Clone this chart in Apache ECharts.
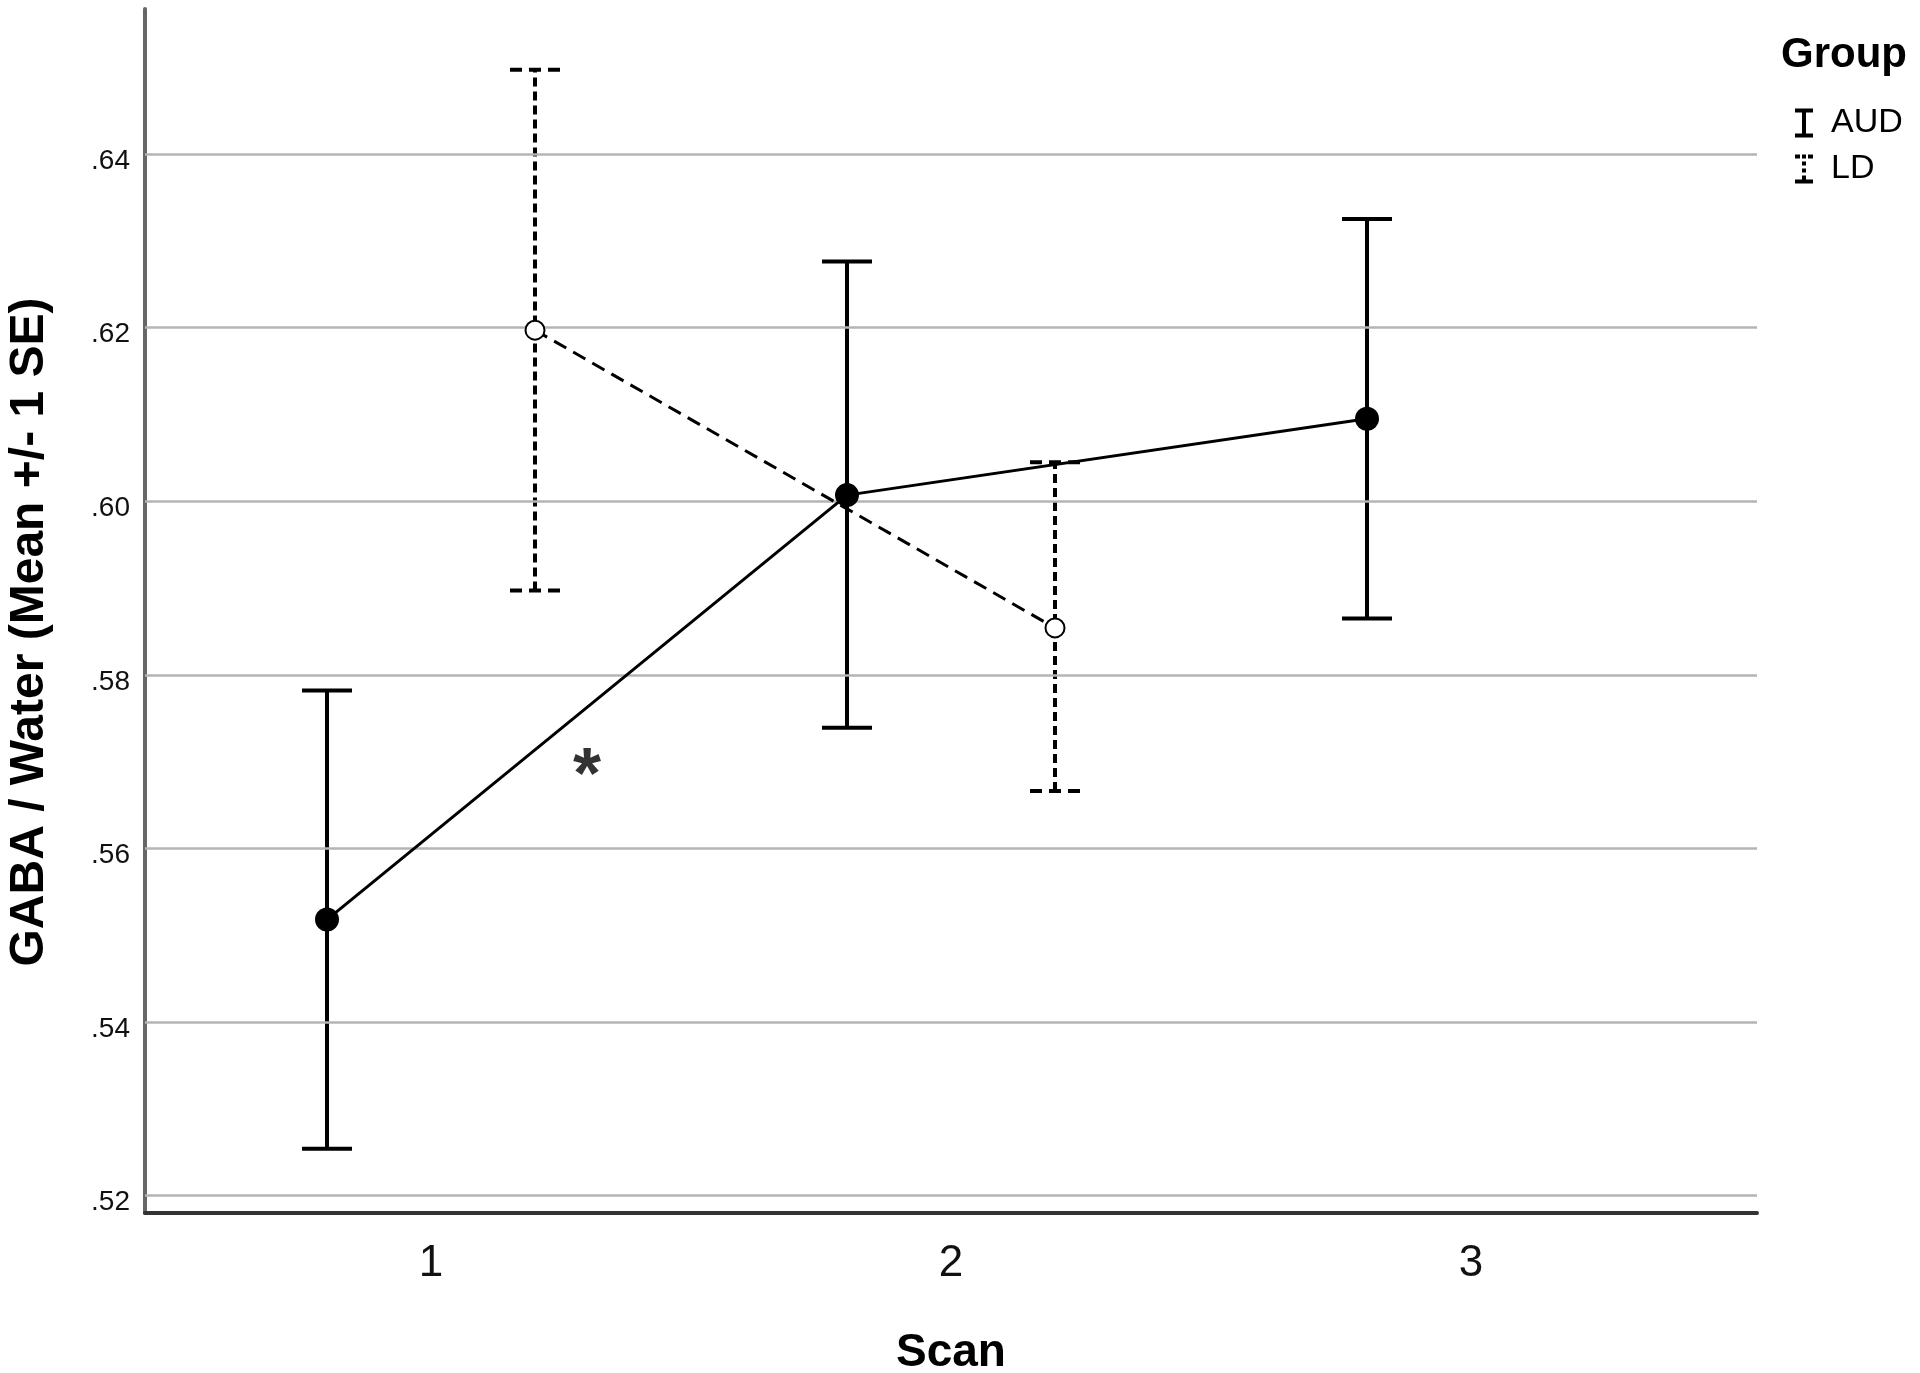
<!DOCTYPE html>
<html>
<head>
<meta charset="utf-8">
<script src="https://cdn.jsdelivr.net/npm/echarts@6/dist/echarts.min.js"></script>
<style>
  html, body { margin: 0; padding: 0; background: #fff; }
  #chart { width: 1920px; height: 1373px; }
</style>
</head>
<body>
<div id="chart"></div>
<script>
// ---- data ----
var scans = [1, 2, 3];
var groups = ['AUD', 'LD'];
var groupOffset = { AUD: -0.2, LD: 0.2 };
var audMean  = [0.5518, 0.6007, 0.6095];
var audLower = [0.5254, 0.5739, 0.5865];
var audUpper = [0.5782, 0.6276, 0.6325];
var ldMean   = [0.6197, 0.5854];
var ldLower  = [0.5897, 0.5666];
var ldUpper  = [0.6497, 0.6045];
var yTicks = [0.52, 0.54, 0.56, 0.58, 0.60, 0.62, 0.64];
var yRange = [0.518, 0.6567];
var xRange = [0.45, 3.55];
var asteriskPos = [1.3, 0.570];

function pts(means, off) {
  return means.map(function (m, i) { return [scans[i] + off, m]; });
}
function bars(lo, hi, off) {
  return lo.map(function (l, i) { return [scans[i] + off, l, hi[i]]; });
}

function makeErr(dashed) {
  return function (params, api) {
    var x = api.value(0), lo = api.value(1), hi = api.value(2);
    var pLo = api.coord([x, lo]), pHi = api.coord([x, hi]);
    var hw = 25;
    var vStyle = { stroke: '#000', lineWidth: 4, lineDash: dashed ? [9, 5] : null, fill: null };
    var cStyle = { stroke: '#000', lineWidth: 4, lineDash: dashed ? [12, 7] : null, fill: null };
    return {
      type: 'group',
      children: [
        { type: 'line', shape: { x1: pLo[0], y1: pLo[1], x2: pHi[0], y2: pHi[1] }, style: vStyle },
        { type: 'line', shape: { x1: pHi[0] - hw, y1: pHi[1], x2: pHi[0] + hw, y2: pHi[1] }, style: cStyle },
        { type: 'line', shape: { x1: pLo[0] - hw, y1: pLo[1], x2: pLo[0] + hw, y2: pLo[1] }, style: cStyle }
      ]
    };
  };
}

var FONT = '"Liberation Sans", Arial, Helvetica, sans-serif';
var chart = echarts.init(document.getElementById('chart'), null, { renderer: 'canvas' });

var option = {
  backgroundColor: '#fff',
  animation: false,
  color: ['#000'],
  title: {
    text: 'Group',
    left: 1776,
    top: 29,
    textStyle: { fontFamily: FONT, fontSize: 42, fontWeight: 'bold', color: '#000' }
  },
  legend: {
    orient: 'vertical',
    left: 1790,
    top: 101,
    itemWidth: 18,
    itemHeight: 29,
    itemGap: 12,
    selectedMode: false,
    textStyle: { fontFamily: FONT, fontSize: 34, color: '#000', padding: [0, 0, 0, 13] },
    data: [
      { name: 'AUD', icon: 'path://M0,0H18V4H11V25H18V29H0V25H7V4H0Z', itemStyle: { color: '#000' } },
      { name: 'LD', icon: 'path://M0,0H5V4H0Z M7,0H11V4H7Z M13,0H18V4H13Z M7,7H11V11H7Z M7,14H11V18H7Z M7,21H11V25H7Z M0,25H18V29H0Z', itemStyle: { color: '#000' } }
    ]
  },
  grid: { left: 145, right: 163, top: 9, bottom: 160, containLabel: false, outerBoundsMode: 'none' },
  xAxis: {
    type: 'value',
    min: xRange[0],
    max: xRange[1],
    name: 'Scan',
    nameLocation: 'middle',
    nameGap: 117,
    nameTextStyle: { fontFamily: FONT, fontSize: 46, fontWeight: 'bold', color: '#000' },
    axisLine: { show: true, lineStyle: { color: '#333', width: 4 } },
    axisTick: { show: false },
    splitLine: { show: false },
    axisLabel: {
      customValues: scans,
      fontFamily: FONT, fontSize: 44, color: '#111', margin: 29,
      formatter: function (v) { return String(Math.round(v)); }
    }
  },
  yAxis: {
    type: 'value',
    min: yRange[0],
    max: yRange[1],
    name: 'GABA / Water (Mean +/- 1 SE)',
    nameLocation: 'middle',
    nameRotate: 90,
    nameGap: 91,
    nameTextStyle: { fontFamily: FONT, fontSize: 48, fontWeight: 'bold', color: '#000', padding: [0, 42, 0, 0] },
    axisLine: { show: true, lineStyle: { color: '#666', width: 4 } },
    axisTick: { show: false },
    splitLine: { show: false },
    axisLabel: {
      customValues: yTicks,
      fontFamily: FONT, fontSize: 28, color: '#111', margin: 15,
      formatter: function (v) { return '{t|.' + Math.round(v * 100) + '}'; },
      rich: {
        t: { fontFamily: FONT, fontSize: 28, color: '#111', padding: [14, 0, 0, 0] }
      }
    }
  },
  series: [
    {
      name: 'grid',
      type: 'line',
      data: [],
      silent: true,
      z: 1,
      markLine: {
        silent: true,
        symbol: ['none', 'none'],
        label: { show: false },
        lineStyle: { color: '#b4b4b4', width: 2.5, type: 'solid' },
        data: yTicks.map(function (v) { return { yAxis: v }; })
      }
    },
    {
      name: 'AUD',
      type: 'custom',
      renderItem: makeErr(false),
      itemStyle: { color: '#000' },
      encode: { x: 0, y: [1, 2] },
      data: bars(audLower, audUpper, groupOffset.AUD),
      z: 3
    },
    {
      name: 'LD',
      type: 'custom',
      renderItem: makeErr(true),
      itemStyle: { color: '#000' },
      encode: { x: 0, y: [1, 2] },
      data: bars(ldLower, ldUpper, groupOffset.LD),
      z: 3
    },
    {
      name: 'AUD mean',
      type: 'line',
      data: pts(audMean, groupOffset.AUD),
      symbol: 'circle',
      symbolSize: 24,
      itemStyle: { color: '#000' },
      lineStyle: { color: '#000', width: 3 },
      z: 5
    },
    {
      name: 'LD mean',
      type: 'line',
      data: pts(ldMean, groupOffset.LD),
      symbol: 'emptyCircle',
      symbolSize: 19,
      itemStyle: { color: '#000', borderWidth: 3, borderColor: '#000' },
      lineStyle: { color: '#000', width: 3, type: [14, 8] },
      z: 5
    },
    {
      name: 'annotation',
      type: 'scatter',
      symbolSize: 0,
      data: [asteriskPos],
      label: {
        show: true,
        position: 'inside',
        formatter: '*',
        fontFamily: FONT,
        fontSize: 72,
        fontWeight: 'bold',
        color: '#000',
        offset: [0, 17]
      },
      z: 6
    }
  ]
};
chart.setOption(option);
</script>
</body>
</html>
